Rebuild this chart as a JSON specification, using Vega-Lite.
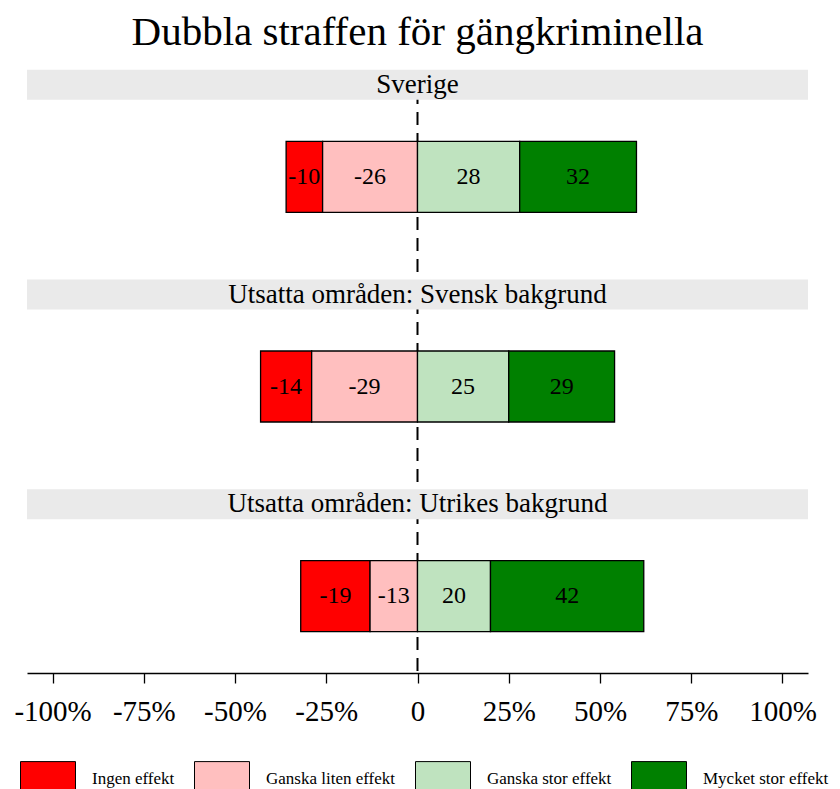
{
  "$schema": "https://vega.github.io/schema/vega-lite/v6.json",
  "width": 781,
  "height": 603,
  "autosize": "none",
  "padding": {"left": 27, "top": 70, "right": 32, "bottom": 116},
  "background": "white",
  "config": {
    "view": {"stroke": null},
    "font": "Liberation Serif"
  },
  "title": {
    "text": "Dubbla straffen för gängkriminella",
    "font": "Liberation Serif",
    "fontSize": 41,
    "fontWeight": "normal",
    "color": "black",
    "anchor": "middle",
    "frame": "group",
    "offset": 15
  },
  "datasets": {
    "bars": [
      {"group": "Sverige", "category": "Ingen effekt", "value": -10},
      {"group": "Sverige", "category": "Ganska liten effekt", "value": -26},
      {"group": "Sverige", "category": "Ganska stor effekt", "value": 28},
      {"group": "Sverige", "category": "Mycket stor effekt", "value": 32},
      {"group": "Utsatta områden: Svensk bakgrund", "category": "Ingen effekt", "value": -14},
      {"group": "Utsatta områden: Svensk bakgrund", "category": "Ganska liten effekt", "value": -29},
      {"group": "Utsatta områden: Svensk bakgrund", "category": "Ganska stor effekt", "value": 25},
      {"group": "Utsatta områden: Svensk bakgrund", "category": "Mycket stor effekt", "value": 29},
      {"group": "Utsatta områden: Utrikes bakgrund", "category": "Ingen effekt", "value": -19},
      {"group": "Utsatta områden: Utrikes bakgrund", "category": "Ganska liten effekt", "value": -13},
      {"group": "Utsatta områden: Utrikes bakgrund", "category": "Ganska stor effekt", "value": 20},
      {"group": "Utsatta områden: Utrikes bakgrund", "category": "Mycket stor effekt", "value": 42}
    ],
    "groups": [
      {"group": "Sverige"},
      {"group": "Utsatta områden: Svensk bakgrund"},
      {"group": "Utsatta områden: Utrikes bakgrund"}
    ]
  },
  "layer": [
    {
      "data": {"values": [{}]},
      "mark": {"type": "rule", "strokeDash": [13, 8], "strokeWidth": 2, "color": "black"},
      "encoding": {"x": {"datum": 0, "type": "quantitative"}}
    },
    {
      "data": {"name": "groups"},
      "mark": {"type": "bar", "size": 30, "yOffset": -92, "color": "#eaeaea"},
      "encoding": {
        "y": {"field": "group", "type": "nominal", "axis": null,
              "scale": {"domain": ["Sverige", "Utsatta områden: Svensk bakgrund", "Utsatta områden: Utrikes bakgrund"], "range": [2, 631], "paddingInner": 0, "paddingOuter": 0}},
        "x": {"datum": -107, "type": "quantitative"},
        "x2": {"datum": 107}
      }
    },
    {
      "data": {"name": "groups"},
      "mark": {"type": "text", "yOffset": -92, "fontSize": 27, "font": "Liberation Serif", "color": "black"},
      "encoding": {
        "y": {"field": "group", "type": "nominal", "axis": null},
        "x": {"datum": 0, "type": "quantitative"},
        "text": {"field": "group"}
      }
    },
    {
      "data": {"name": "bars"},
      "mark": {"type": "bar", "size": 71, "stroke": "black", "strokeWidth": 1.3},
      "encoding": {
        "y": {"field": "group", "type": "nominal", "axis": null},
        "x": {"field": "value", "type": "quantitative", "stack": "zero", "title": null,
              "scale": {"domain": [-107, 107], "nice": false},
              "axis": {"values": [-100, -75, -50, -25, 0, 25, 50, 75, 100],
                       "labelExpr": "datum.value == 0 ? '0' : datum.value + '%'",
                       "grid": false, "domainColor": "black", "domainWidth": 1.5,
                       "tickColor": "black", "tickWidth": 1.3, "tickSize": 10,
                       "labelFont": "Liberation Serif", "labelFontSize": 29, "labelColor": "black",
                       "labelPadding": 14, "labelFlush": false, "labelOverlap": false}},
        "color": {"field": "category", "type": "nominal",
                  "scale": {"domain": ["Ingen effekt", "Ganska liten effekt", "Ganska stor effekt", "Mycket stor effekt"],
                            "range": ["#ff0000", "#ffbfbf", "#bfe3bf", "#008000"]},
                  "legend": {"title": null, "orient": "none", "legendX": -7, "legendY": 681,
                             "direction": "horizontal", "columns": 4, "gridAlign": "each",
                             "columnPadding": 17,
                             "symbolType": "M-1,-0.64H1V0.64H-1Z", "symbolSize": 3025,
                             "symbolStrokeColor": "black", "symbolStrokeWidth": 1,
                             "symbolOpacity": 1,
                             "labelFont": "Liberation Serif", "labelFontSize": 17, "labelColor": "black",
                             "labelOffset": 16, "labelLimit": 300}},
        "order": {"field": "category", "sort": "ascending"}
      }
    },
    {
      "data": {"name": "bars"},
      "transform": [
        {"stack": "value", "groupby": ["group"], "sort": [{"field": "category", "order": "ascending"}], "as": ["v0", "v1"]},
        {"calculate": "(datum.v0 + datum.v1) / 2", "as": "mid"}
      ],
      "mark": {"type": "text", "fontSize": 24, "font": "Liberation Serif", "color": "black"},
      "encoding": {
        "y": {"field": "group", "type": "nominal", "axis": null},
        "x": {"field": "mid", "type": "quantitative", "title": null},
        "text": {"field": "value", "type": "nominal"}
      }
    }
  ]
}
